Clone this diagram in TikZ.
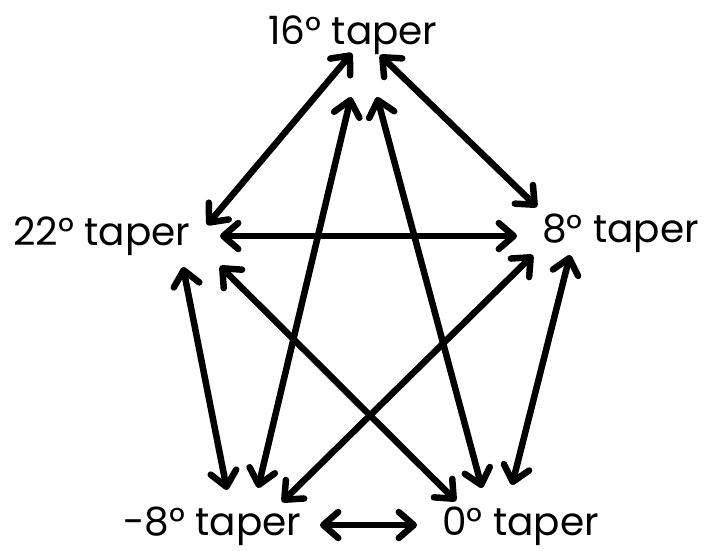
\documentclass[tikz,border=0pt]{standalone}
\usepackage{fontspec}
\setmainfont{Poppins}
\usetikzlibrary{arrows.meta}
\begin{document}
\begin{tikzpicture}[x=1pt,y=-1pt,
  lbl/.style={anchor=base west,inner sep=0pt,font=\fontsize{39}{47}\selectfont},
  link/.style={line width=6.5pt,{Straight Barb[length=15pt,width=26pt,line cap=round,line join=round]}-{Straight Barb[length=15pt,width=26pt,line cap=round,line join=round]}}]
\useasboundingbox (0,0) rectangle (707,550);
\node[lbl] (t16) at (268,44) {16° taper};
\node[lbl] (t22) at (13,245) {22° taper};
\node[lbl] (t8) at (542,242) {8° taper};
\node[lbl] (tm8) at (123,535) {-8° taper};
\node[lbl] (t0) at (442,535) {0° taper};
% arrow endpoints
\coordinate (a16a) at (352,53);   \coordinate (a22a) at (207,225);
\coordinate (a16b) at (380,55);   \coordinate (a8a) at (537,207);
\coordinate (a16c) at (351,97);   \coordinate (am8a) at (258,488);
\coordinate (a16d) at (377,97);   \coordinate (a0a) at (482,488);
\coordinate (a22b) at (220,236);  \coordinate (a8b) at (517,236);
\coordinate (a22c) at (183,267);  \coordinate (am8b) at (227,490);
\coordinate (a22d) at (220,266);  \coordinate (a0b) at (456,501);
\coordinate (a8c) at (533,255);   \coordinate (am8c) at (282,502);
\coordinate (a8d) at (570,255);   \coordinate (a0c) at (512,485);
\coordinate (am8d) at (320,525);  \coordinate (a0d) at (417,525);
\draw[link] (a16a) -- (a22a);
\draw[link] (a16b) -- (a8a);
\draw[link] (a16c) -- (am8a);
\draw[link] (a16d) -- (a0a);
\draw[link] (a22b) -- (a8b);
\draw[link] (a22c) -- (am8b);
\draw[link] (a22d) -- (a0b);
\draw[link] (a8c) -- (am8c);
\draw[link] (a8d) -- (a0c);
\draw[link] (am8d) -- (a0d);
\end{tikzpicture}
\end{document}
